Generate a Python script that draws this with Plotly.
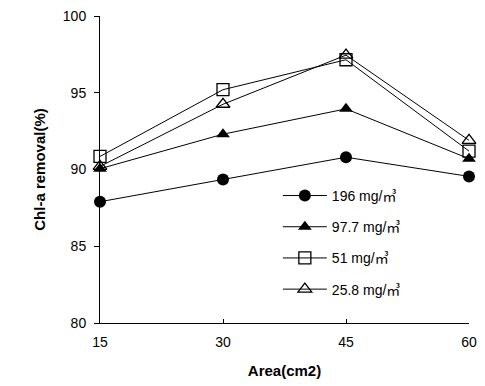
import plotly.graph_objects as go

areas = [15, 30, 45, 60]
series_names = ["196 mg/㎥", "97.7 mg/㎥", "51 mg/㎥", "25.8 mg/㎥"]
s196 = [87.9, 89.35, 90.8, 89.55]
s97 = [90.05, 92.3, 93.95, 90.7]
s51 = [90.85, 95.2, 97.15, 91.2]
s25 = [90.2, 94.25, 97.45, 91.9]
y_ticks = [80, 85, 90, 95, 100]
x_ticks = [15, 30, 45, 60]

styles = [
    dict(symbol="circle", color="black", size=12),
    dict(symbol="triangle-up", color="black", size=12),
    dict(symbol="square-open", color="black", size=12, line=dict(width=1.3, color="black")),
    dict(symbol="triangle-up-open", color="black", size=12, line=dict(width=1.3, color="black")),
]

fig = go.Figure()
for i, (name, vals) in enumerate(zip(series_names, [s196, s97, s51, s25])):
    fig.add_trace(go.Scatter(
        x=areas, y=vals, name=name, mode="lines+markers",
        line=dict(color="black", width=1),
        marker=styles[i], cliponaxis=False, legendgroup=str(i),
    ))

# page body has an 8px margin; figure sized to fit the 485x386 window
fig.update_layout(
    width=477, height=378,
    margin=dict(l=92, r=16, t=8, b=63),
    paper_bgcolor="white", plot_bgcolor="white",
    font=dict(family="Liberation Sans, Arial, Noto Sans CJK SC, sans-serif", size=14, color="black"),
    legend=dict(x=0.482, y=0.466, xanchor="left", yanchor="top",
                bgcolor="rgba(0,0,0,0)", font=dict(size=14), tracegroupgap=10,
                itemwidth=44),
    showlegend=True,
)
fig.update_xaxes(range=[15, 60], tickvals=x_ticks, showline=True, linecolor="black",
                 linewidth=1, ticks="inside", ticklen=4, tickcolor="black",
                 ticklabelstandoff=6, ticklabeloverflow="allow", automargin=False,
                 showgrid=False, zeroline=False,
                 title=dict(text="<b>Area(cm2)</b>", font=dict(size=15), standoff=16))
fig.update_yaxes(range=[80, 100], tickvals=y_ticks, showline=True, linecolor="black",
                 linewidth=1, ticks="outside", ticklen=5, tickcolor="black",
                 ticklabelstandoff=5, ticklabeloverflow="allow", automargin=False,
                 showgrid=False, zeroline=False,
                 title=dict(text="<b>Chl-a removal(%)</b>", font=dict(size=15), standoff=13))

fig.write_html("out.html")
